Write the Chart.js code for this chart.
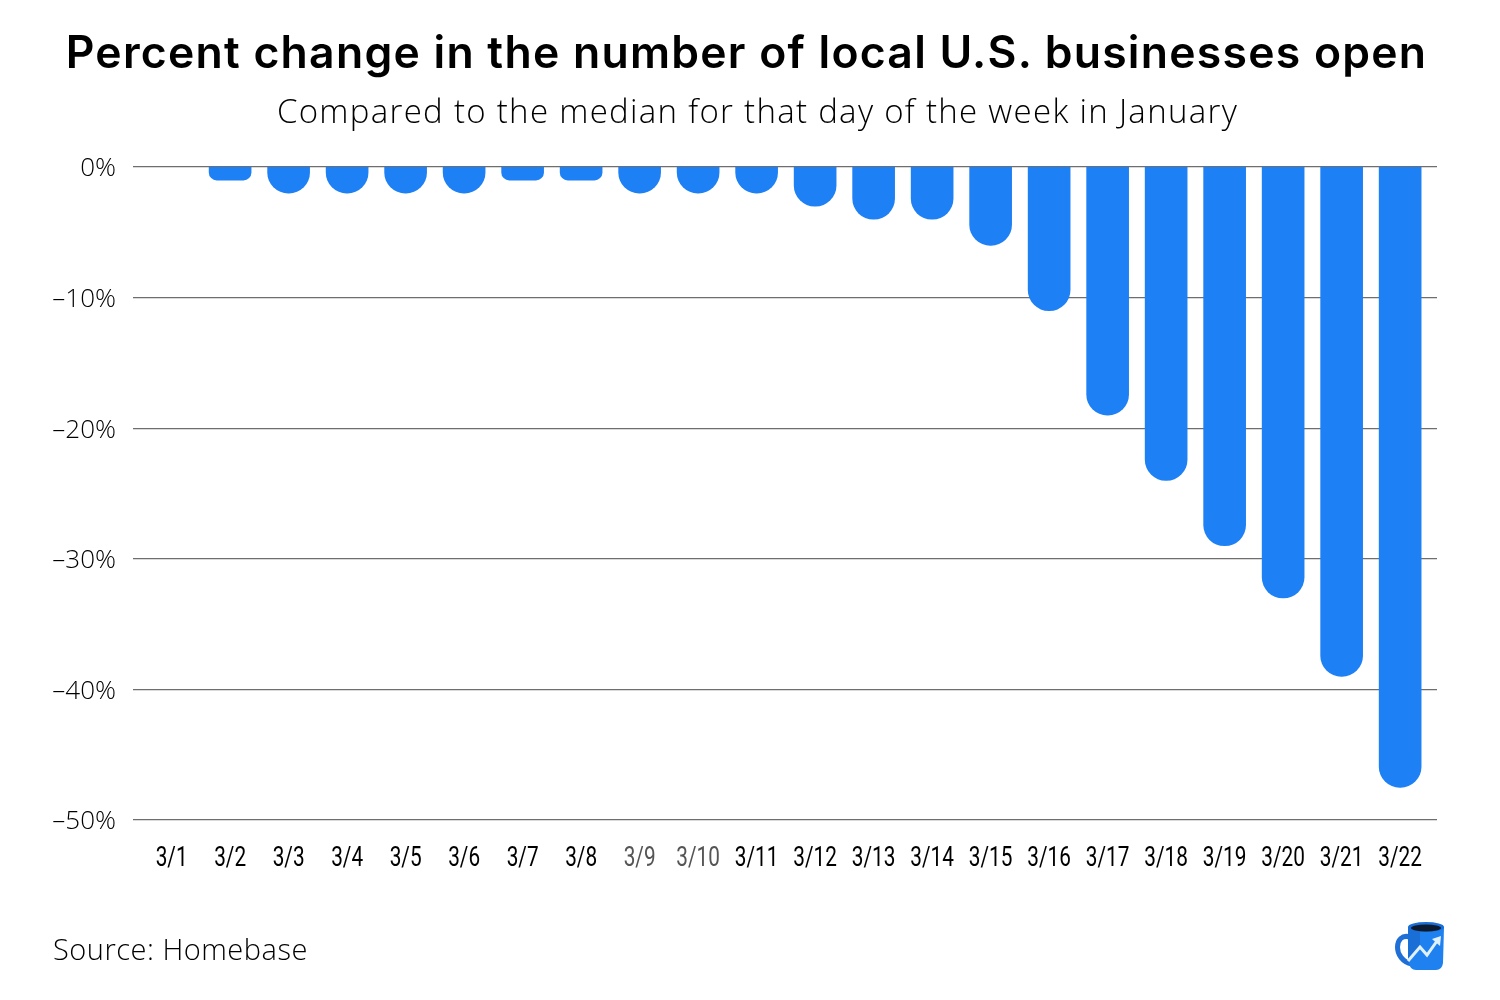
<!DOCTYPE html>
<html>
<head>
<meta charset="utf-8">
<title>Percent change in the number of local U.S. businesses open</title>
<script src="https://cdn.jsdelivr.net/npm/chart.js@4"></script>
<style>
  html, body { margin: 0; padding: 0; background: #fff; }
  #page { position: relative; width: 1500px; height: 1000px; overflow: hidden; font-family: Inter, sans-serif; color: #000; }
  #page canvas { position: absolute; left: 0; top: 0; }
  .txt { position: absolute; margin: 0; white-space: nowrap; }
  #title { left: 0; width: 1493px; top: 24px; text-align: center; font-size: 44.5px; font-weight: 600; line-height: 56px; letter-spacing: 1.25px; }
  #subtitle { left: 0; width: 1515px; top: 91px; text-align: center; font-family: "Open Sans", sans-serif; font-size: 33px; font-weight: 300; line-height: 40px; letter-spacing: 1.3px; }
  #source { left: 53px; top: 931px; font-family: "Open Sans", sans-serif; font-size: 29px; font-weight: 300; line-height: 36px; letter-spacing: 0.5px; }
  #logo { position: absolute; left: 1370px; top: 910px; }
</style>
</head>
<body>
<div id="page">
  <canvas id="barChart" width="1500" height="1000"></canvas>
  <h1 class="txt" id="title">Percent change in the number of local U.S. businesses open</h1>
  <p class="txt" id="subtitle">Compared to the median for that day of the week in January</p>
  <p class="txt" id="source">Source: Homebase</p>
  <svg id="logo" width="100" height="70" viewBox="0 0 100 70">
    <path d="M40 27 C24 22 22 50 42 54" fill="none" stroke="#1f6fd6" stroke-width="5"/>
    <path d="M38 17 L74 17 L73 53 Q72 60 66 60 L46 60 Q40 60 39 53 Z" fill="#1f80f0"/>
    <path d="M38 17 L50 17 L50 37 L38 51 Z" fill="#1a6fd6"/>
    <ellipse cx="56" cy="17" rx="18" ry="5" fill="#1a6fd6"/>
    <ellipse cx="56" cy="18" rx="15" ry="3.5" fill="#0b1a2e"/>
    <path d="M38 51 L50 37 L57 45 L67 31" fill="none" stroke="#dff0ff" stroke-width="3"/>
    <path d="M71 26 L62 29 L70 36 Z" fill="#dff0ff"/>
  </svg>
</div>
<script>
// Chart data
const dayLabels = ['3/1', '3/2', '3/3', '3/4', '3/5', '3/6', '3/7', '3/8', '3/9', '3/10', '3/11',
    '3/12', '3/13', '3/14', '3/15', '3/16', '3/17', '3/18', '3/19', '3/20', '3/21', '3/22'];
const percentChange = [0, -1, -2, -2, -2, -2, -1, -1, -2, -2, -2,
    -3, -4, -4, -6, -11, -19, -24, -29, -33, -39, -47.5];
const mutedDays = ['3/9', '3/10'];
const yTicks = [0, -10, -20, -30, -40, -50];

const barBlue = '#1e80f5';

// No condensed font is installed, so the day labels are squeezed horizontally
const narrowDayLabels = {
    id: 'narrowDayLabels',
    afterDraw(chart) {
        const { ctx, scales } = chart;
        const labelY = scales.y.bottom + 39;
        ctx.save();
        ctx.font = '27px Roboto, sans-serif';
        ctx.textAlign = 'center';
        ctx.textBaseline = 'middle';
        dayLabels.forEach((label, i) => {
            ctx.save();
            ctx.translate(scales.x.getPixelForValue(i), labelY);
            ctx.scale(0.77, 1);
            ctx.fillStyle = mutedDays.includes(label) ? '#555555' : '#000000';
            ctx.fillText(label, 0, 0);
            ctx.restore();
        });
        ctx.restore();
    }
};

new Chart(document.getElementById('barChart'), {
    type: 'bar',
    plugins: [narrowDayLabels],
    data: {
        datasets: [{
            data: dayLabels.map((label, i) => ({ x: i, y: percentChange[i] })),
            backgroundColor: ctx => (ctx.raw && ctx.raw.y === 0 ? 'transparent' : barBlue),
            barThickness: 42,
            // base sits above the plot and gets clipped, so short bars keep a full round end
            base: 4,
            borderSkipped: 'start',
            borderRadius: ctx => (ctx.raw && ctx.raw.y >= -1 ? 8 : 21)
        }]
    },
    options: {
        responsive: false,
        animation: false,
        devicePixelRatio: 1,
        layout: { padding: { top: 167, right: 63, bottom: 120, left: 0 } },
        plugins: { legend: { display: false }, tooltip: { enabled: false } },
        scales: {
            x: {
                type: 'linear',
                offset: false,
                min: -0.66,
                max: 21.63,
                afterFit: scale => { scale.height = 60; },
                grid: { display: false },
                border: { display: false },
                ticks: { display: false }
            },
            y: {
                min: -50,
                max: 0,
                afterFit: scale => { scale.width = 133; },
                afterBuildTicks: scale => { scale.ticks = yTicks.map(value => ({ value })); },
                grid: { color: '#6e6e6e', lineWidth: 1.2, drawTicks: false },
                border: { display: false },
                ticks: {
                    padding: 17,
                    labelOffset: 2,
                    color: '#000000',
                    font: { family: '"Open Sans", sans-serif', size: 26, weight: '300' },
                    callback: value => (value < 0 ? '–' + Math.abs(value) : value) + '%'
                }
            }
        }
    }
});
</script>
</body>
</html>
